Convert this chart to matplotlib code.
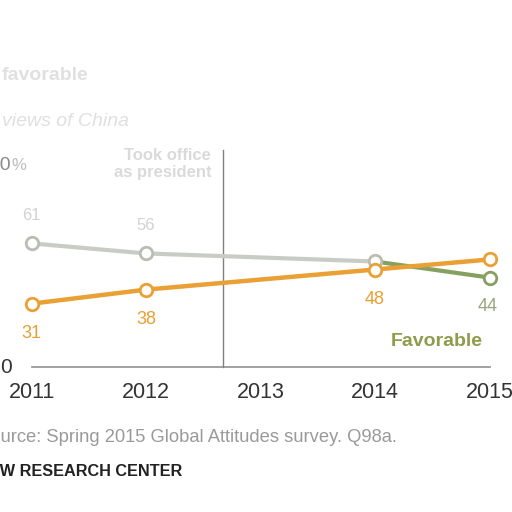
import matplotlib
matplotlib.use("Agg")
import matplotlib.pyplot as plt

years = [2011, 2012, 2013, 2014, 2015]
unfavorable = [31, 38, None, 48, 53]   # orange
favorable = [61, 56, None, 52, 44]     # grey/green
orange_labels = {2011: "31", 2012: "38", 2014: "48"}
green_labels_below = {2015: "44"}
grey_labels_above = {2011: "61", 2012: "56"}
event_year = 2012.67

ORANGE = "#e9a034"
GREY = "#c9ccc4"
GREEN = "#86a061"
FAV = "#8f9c4c"

# pixel mapping: x = 31.5 + (year-2011)*114.5 ; y(top-down) = 366 - 2.01*v
x0 = 2011 - 31.5 / 114.5
x1 = 2011 + (512 - 31.5) / 114.5
yb = (366 - 512) / 2.01
yt = 366 / 2.01


def px(x):
    return 2011 + (x - 31.5) / 114.5


def py(y):
    return (366 - y) / 2.01


fig = plt.figure(figsize=(5.12, 5.12), dpi=100)
ax = fig.add_axes([0, 0, 1, 1])
ax.set_xlim(x0, x1)
ax.set_ylim(yb, yt)
ax.axis("off")

FONT = "Liberation Sans"

# faint title lines
ax.text(px(2), py(75), "favorable", ha="left", va="center",
        fontsize=14, color="#e0e0e0", family=FONT, fontweight="bold")
ax.text(px(2), py(122), "views of China", ha="left", va="center",
        fontsize=14, color="#e0e0e0", family=FONT, style="italic")

# y ticks
ax.text(px(11), 100, "100", ha="right", va="center",
        fontsize=14, color="#8a8a8a", family=FONT)
ax.text(px(11), 100, "%", ha="left", va="center",
        fontsize=12, color="#bbbbbb", family=FONT)
ax.text(px(12), -0.5, "0", ha="right", va="center",
        fontsize=15, color="#333333", family=FONT)

# baseline and event line
ax.plot([years[0], years[-1]], [-0.5, -0.5], color="#9a9a9a", lw=1.3, zorder=1)
ax.plot([event_year, event_year], [-0.5, 107.5], color="#808080", lw=1.0, zorder=1)
ax.text(event_year - 0.1, 100.5, "Took office\nas president", ha="right", va="center",
        fontsize=12, color="#dadada", family=FONT, fontweight="bold", linespacing=1.2)

# series
fx = [y for y, v in zip(years, favorable) if v is not None]
fv = [v for v in favorable if v is not None]
ux = [y for y, v in zip(years, unfavorable) if v is not None]
uv = [v for v in unfavorable if v is not None]

ax.plot(fx[:-1], fv[:-1], color=GREY, lw=3, zorder=2, solid_capstyle="round")
ax.plot(fx[-2:], fv[-2:], color=GREEN, lw=3, zorder=2, solid_capstyle="round")
ax.plot(fx[:-1], fv[:-1], "o", ms=9, mfc="white", mec="#b9bdb4", mew=2, zorder=3)
ax.plot(fx[-1:], fv[-1:], "o", ms=9, mfc="white", mec=GREEN, mew=2, zorder=3)

ax.plot(ux, uv, color=ORANGE, lw=3.2, zorder=4, solid_capstyle="round")
ax.plot(ux, uv, "o", ms=9, mfc="white", mec=ORANGE, mew=2, zorder=5)

for y, v in zip(years, unfavorable):
    if y in orange_labels:
        ax.text(y, v - 15, orange_labels[y], ha="center", va="center",
                fontsize=13, color=ORANGE, family=FONT)
for y, v in zip(years, favorable):
    if y in green_labels_below:
        ax.text(y - 0.02, v - 14.5, green_labels_below[y], ha="center", va="center",
                fontsize=13, color="#9aa580", family=FONT)
    if y in grey_labels_above:
        ax.text(y, v + 14, grey_labels_above[y], ha="center", va="center",
                fontsize=12, color="#d2d2d2", family=FONT)

ax.text(2015 - 0.06, py(341), "Favorable", ha="right", va="center",
        fontsize=14, color=FAV, family=FONT, fontweight="bold")

# x tick labels
for y in years:
    ax.text(y, py(392), str(y), ha="center", va="center",
            fontsize=15.5, color="#333333", family=FONT)

# footer
ax.text(px(397), py(438),
        "Source: Spring 2015 Global Attitudes survey. Q98a.", ha="right", va="center",
        fontsize=13.2, color="#9a9a9a", family=FONT)
ax.text(px(182), py(471),
        "PEW RESEARCH CENTER", ha="right", va="center",
        fontsize=11.7, color="#222222", family=FONT, fontweight="bold")

fig.savefig("out.png", dpi=100)
